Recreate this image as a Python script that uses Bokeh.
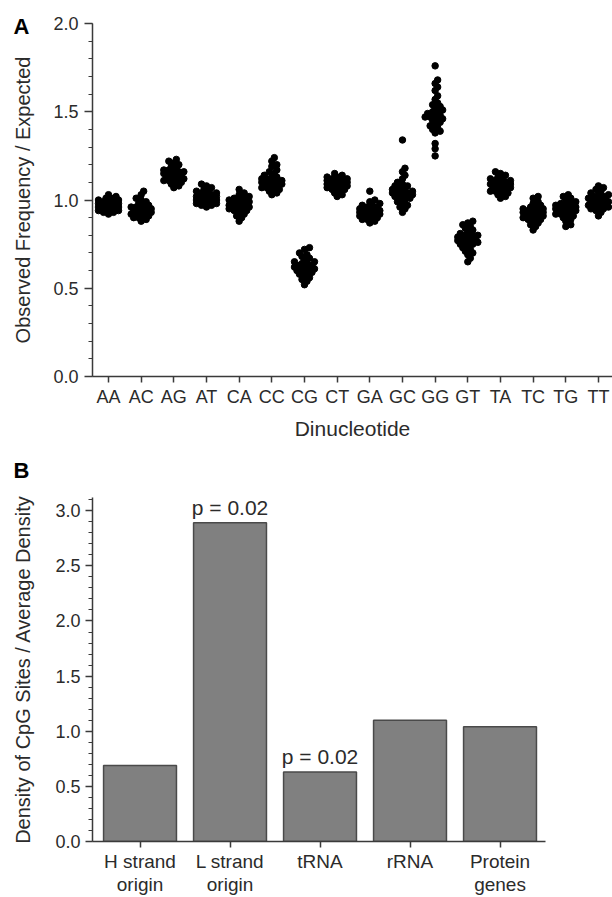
import numpy as np
from bokeh.plotting import figure
from bokeh.layouts import column
from bokeh.models import Range1d, FixedTicker, SingleIntervalTicker, NumeralTickFormatter, ColumnDataSource
from bokeh.core.properties import value
from bokeh.embed import file_html
from bokeh.resources import INLINE

# ---------------- Panel A data ----------------
dinucleotides = ["AA", "AC", "AG", "AT", "CA", "CC", "CG", "CT",
                 "GA", "GC", "GG", "GT", "TA", "TC", "TG", "TT"]

aa_vals = [0.92, 0.93, 0.94, 0.94, 0.95, 0.95, 0.95, 0.96, 0.96, 0.96, 0.96, 0.97, 0.97, 0.97, 0.97,
           0.97, 0.98, 0.98, 0.98, 0.98, 0.99, 0.99, 0.99, 1.00, 1.00, 1.01, 1.01, 1.02, 1.03, 0.93]
ac_vals = [0.88, 0.89, 0.90, 0.91, 0.91, 0.92, 0.92, 0.93, 0.93, 0.93, 0.94, 0.94, 0.94, 0.94, 0.95,
           0.95, 0.95, 0.96, 0.96, 0.96, 0.97, 0.97, 0.98, 0.99, 1.00, 1.01, 1.03, 1.05, 0.90, 0.92]
ag_vals = [1.07, 1.08, 1.09, 1.10, 1.10, 1.11, 1.11, 1.12, 1.12, 1.13, 1.13, 1.13, 1.14, 1.14, 1.14,
           1.15, 1.15, 1.15, 1.16, 1.16, 1.17, 1.17, 1.18, 1.19, 1.20, 1.21, 1.22, 1.23, 1.12, 1.16]
at_vals = [0.96, 0.97, 0.97, 0.98, 0.98, 0.99, 0.99, 0.99, 1.00, 1.00, 1.00, 1.01, 1.01, 1.01, 1.01,
           1.02, 1.02, 1.02, 1.03, 1.03, 1.04, 1.04, 1.05, 1.05, 1.06, 1.07, 1.08, 1.09, 1.00, 1.02]
ca_vals = [0.88, 0.90, 0.91, 0.92, 0.93, 0.94, 0.94, 0.95, 0.95, 0.96, 0.96, 0.96, 0.97, 0.97, 0.97,
           0.98, 0.98, 0.98, 0.99, 0.99, 1.00, 1.00, 1.01, 1.01, 1.02, 1.03, 1.04, 1.06, 0.95, 0.99]
cc_vals = [1.03, 1.04, 1.05, 1.06, 1.06, 1.07, 1.07, 1.08, 1.08, 1.09, 1.09, 1.09, 1.10, 1.10, 1.10,
           1.11, 1.11, 1.12, 1.12, 1.13, 1.13, 1.14, 1.15, 1.16, 1.17, 1.19, 1.20, 1.22, 1.24, 1.10]
cg_vals = [0.52, 0.54, 0.55, 0.56, 0.57, 0.58, 0.59, 0.59, 0.60, 0.60, 0.61, 0.61, 0.62, 0.62, 0.62,
           0.63, 0.63, 0.64, 0.64, 0.65, 0.65, 0.66, 0.67, 0.68, 0.69, 0.70, 0.72, 0.73, 0.61, 0.63]
ct_vals = [1.02, 1.03, 1.04, 1.05, 1.06, 1.06, 1.07, 1.07, 1.08, 1.08, 1.08, 1.09, 1.09, 1.09, 1.09,
           1.10, 1.10, 1.10, 1.11, 1.11, 1.11, 1.12, 1.12, 1.13, 1.13, 1.14, 1.15, 1.08, 1.10, 1.12]
ga_vals = [0.87, 0.88, 0.89, 0.89, 0.90, 0.90, 0.91, 0.91, 0.92, 0.92, 0.92, 0.93, 0.93, 0.93, 0.93,
           0.94, 0.94, 0.94, 0.95, 0.95, 0.96, 0.96, 0.97, 0.97, 0.98, 0.99, 1.00, 1.05, 0.92, 0.94]
gc_vals = [0.93, 0.95, 0.96, 0.97, 0.98, 0.99, 1.00, 1.01, 1.01, 1.02, 1.02, 1.03, 1.03, 1.04, 1.04,
           1.04, 1.05, 1.05, 1.06, 1.06, 1.07, 1.08, 1.08, 1.09, 1.10, 1.12, 1.14, 1.16, 1.18, 1.34]
gg_vals = [1.25, 1.29, 1.32, 1.38, 1.39, 1.40, 1.41, 1.42, 1.43, 1.44, 1.45, 1.46, 1.46, 1.47, 1.47,
           1.48, 1.48, 1.49, 1.50, 1.50, 1.51, 1.52, 1.53, 1.54, 1.55, 1.57, 1.59, 1.62, 1.64, 1.66,
           1.68, 1.76]
gt_vals = [0.65, 0.67, 0.69, 0.70, 0.71, 0.72, 0.73, 0.74, 0.75, 0.75, 0.76, 0.76, 0.77, 0.77, 0.78,
           0.78, 0.79, 0.79, 0.80, 0.80, 0.81, 0.82, 0.83, 0.84, 0.85, 0.86, 0.87, 0.88, 0.78, 0.80]
ta_vals = [1.01, 1.02, 1.03, 1.04, 1.04, 1.05, 1.05, 1.06, 1.06, 1.07, 1.07, 1.07, 1.08, 1.08, 1.08,
           1.09, 1.09, 1.09, 1.10, 1.10, 1.11, 1.11, 1.12, 1.12, 1.13, 1.14, 1.15, 1.16, 1.07, 1.09]
tc_vals = [0.83, 0.85, 0.86, 0.87, 0.88, 0.89, 0.89, 0.90, 0.90, 0.91, 0.91, 0.92, 0.92, 0.92, 0.93,
           0.93, 0.93, 0.94, 0.94, 0.94, 0.95, 0.95, 0.96, 0.96, 0.97, 0.98, 0.99, 1.01, 1.02, 0.93]
tg_vals = [0.85, 0.86, 0.88, 0.89, 0.90, 0.91, 0.91, 0.92, 0.92, 0.93, 0.93, 0.94, 0.94, 0.94, 0.95,
           0.95, 0.95, 0.96, 0.96, 0.96, 0.97, 0.97, 0.98, 0.98, 0.99, 1.00, 1.01, 1.02, 1.03, 0.95]
tt_vals = [0.91, 0.93, 0.94, 0.95, 0.95, 0.96, 0.96, 0.97, 0.97, 0.98, 0.98, 0.98, 0.99, 0.99, 0.99,
           1.00, 1.00, 1.00, 1.01, 1.01, 1.02, 1.02, 1.03, 1.03, 1.04, 1.05, 1.06, 1.07, 1.08, 0.99]

dinuc_values = [aa_vals, ac_vals, ag_vals, at_vals, ca_vals, cc_vals, cg_vals, ct_vals,
                ga_vals, gc_vals, gg_vals, gt_vals, ta_vals, tc_vals, tg_vals, tt_vals]

# ---------------- Panel B data ----------------
regions = ["H strand\norigin", "L strand\norigin", "tRNA", "rRNA", "Protein\ngenes"]
cpg_density = [0.69, 2.89, 0.63, 1.10, 1.04]
p_labels = ["", "p = 0.02", "p = 0.02", "", ""]

FONT = "Liberation Sans"
TXT = "#2b2b2b"
AX = "#3a3a3a"

FRAME_W = 520                     # both frames span x = 92 .. 612 (column aligns frames)
A_PX_Y = 176.5
B_PX_X, B_PX_Y = 90.0, 110.6


def swarm_offsets(vals, px_per_x, px_per_y, min_d=3.6, step=2.5, max_k=4):
    """Deterministic beeswarm layout (horizontal pixel offsets, converted to x units)."""
    vals = np.asarray(vals, dtype=float)
    order = np.argsort(vals)
    placed = []
    offs = np.zeros(len(vals))
    cands = [0]
    for k in range(1, max_k + 1):
        cands += [k, -k]
    for i in order:
        y = vals[i] * px_per_y
        best, best_d = 0.0, -1
        for k in cands:
            ox = k * step
            d = min([np.hypot(ox - px, y - py) for px, py in placed] or [1e9])
            if d >= min_d:
                best = ox
                break
            if d > best_d:
                best, best_d = ox, d
        placed.append((best, y))
        offs[i] = best / px_per_x
    return offs


def style_axes(p):
    for ax in (p.xaxis[0], p.yaxis[0]):
        ax.axis_line_color = AX
        ax.axis_line_width = 1.5
        ax.major_tick_line_color = AX
        ax.major_tick_line_width = 1.5
        ax.minor_tick_line_color = AX
        ax.minor_tick_line_width = 1.2
        ax.major_label_text_font = FONT
        ax.major_label_text_color = TXT
        ax.axis_label_text_font = FONT
        ax.axis_label_text_color = TXT
        ax.axis_label_text_font_style = "normal"
    p.grid.visible = False
    p.outline_line_color = None


def panel_letter(p, letter, x, y):
    # drawn at overlay level so that it is not clipped to the plot frame
    p.text(x=[x], y=[y], text=[letter], text_font=value(FONT), text_font_style="bold",
           text_font_size="22px", text_color="black", text_align="left",
           text_baseline="middle", level="overlay")


# ---------------- Panel A ----------------
a_x0, a_x1 = -0.49, 15.43
A_PX_X = FRAME_W / (a_x1 - a_x0)
pa = figure(width=612, height=445, output_backend="svg", toolbar_location=None,
            x_range=Range1d(a_x0, a_x1), y_range=Range1d(0, 2.0),
            min_border_left=92, min_border_right=0, min_border_top=23, min_border_bottom=69)

xs, ys = [], []
for i, vals in enumerate(dinuc_values):
    offs = swarm_offsets(vals, A_PX_X, A_PX_Y)
    xs += list(i + offs)
    ys += list(vals)
pa.scatter(x=xs, y=ys, size=6.5, color="black", line_color="black")

style_axes(pa)
pa.xaxis.ticker = FixedTicker(ticks=list(range(len(dinucleotides))))
pa.xaxis.major_label_overrides = {i: d for i, d in enumerate(dinucleotides)}
pa.xaxis.major_tick_in = 0
pa.xaxis.major_tick_out = 6
pa.xaxis.minor_tick_out = 0
pa.xaxis.major_label_text_font_size = "18px"
pa.xaxis.major_label_standoff = 4
pa.xaxis.axis_label = "Dinucleotide"
pa.xaxis.axis_label_text_font_size = "21px"
pa.xaxis.axis_label_standoff = 7

pa.yaxis.ticker = SingleIntervalTicker(interval=0.5, num_minor_ticks=5)
pa.yaxis.formatter = NumeralTickFormatter(format="0.0")
pa.yaxis.major_tick_in = 0
pa.yaxis.major_tick_out = 8
pa.yaxis.minor_tick_in = 0
pa.yaxis.minor_tick_out = 4
pa.yaxis.major_label_text_font_size = "18px"
pa.yaxis.major_label_standoff = 6
pa.yaxis.axis_label = "Observed Frequency / Expected"
pa.yaxis.axis_label_text_font_size = "20px"
pa.yaxis.axis_label_standoff = 16

# panel letter: 79 px left of the frame, near the canvas top
panel_letter(pa, "A", a_x0 - 79 / A_PX_X, 2.0 - 2.5 / A_PX_Y)

# ---------------- Panel B ----------------
b_x0, b_axis_end = -0.528, 4.506
b_x1 = b_x0 + FRAME_W / B_PX_X
b_top = 3.12
pb = figure(width=612, height=452, output_backend="svg", toolbar_location=None,
            x_range=Range1d(b_x0, b_x1), y_range=Range1d(0, b_top),
            min_border_left=92, min_border_right=0, min_border_top=52, min_border_bottom=55)

xpos = list(range(len(regions)))
src = ColumnDataSource(dict(x=xpos, top=cpg_density, lab=p_labels))
pb.vbar(x="x", top="top", width=0.81, bottom=0, source=src,
        fill_color="#808080", line_color="#4a4a4a", line_width=1.5)
pb.text(x="x", y="top", text="lab", source=src, text_align="center", text_baseline="bottom",
        y_offset=-4, text_font_size="21px", text_color=TXT, text_font=value(FONT),
        level="overlay")

style_axes(pb)
pb.xaxis.bounds = (b_x0, b_axis_end)
pb.xaxis.ticker = FixedTicker(ticks=xpos)
pb.xaxis.major_label_overrides = {i: r for i, r in enumerate(regions)}
pb.xaxis.major_tick_in = 0
pb.xaxis.major_tick_out = 6
pb.xaxis.minor_tick_out = 0
pb.xaxis.major_label_text_font_size = "19px"
pb.xaxis.major_label_standoff = 3
pb.xaxis.major_label_text_line_height = 1.1

pb.yaxis.ticker = SingleIntervalTicker(interval=0.5, num_minor_ticks=5)
pb.yaxis.formatter = NumeralTickFormatter(format="0.0")
pb.yaxis.major_tick_in = 0
pb.yaxis.major_tick_out = 7
pb.yaxis.minor_tick_in = 0
pb.yaxis.minor_tick_out = 4
pb.yaxis.major_label_text_font_size = "18px"
pb.yaxis.major_label_standoff = 5
pb.yaxis.axis_label = "Density of CpG Sites / Average Density"
pb.yaxis.axis_label_text_font_size = "20px"
pb.yaxis.axis_label_standoff = 18

# panel letter: 79 px left of the frame, above the frame top
panel_letter(pb, "B", b_x0 - 79 / B_PX_X, b_top + 27 / B_PX_Y)

layout = column(pa, pb, spacing=0)
open("out.html", "w").write(file_html(layout, INLINE))
